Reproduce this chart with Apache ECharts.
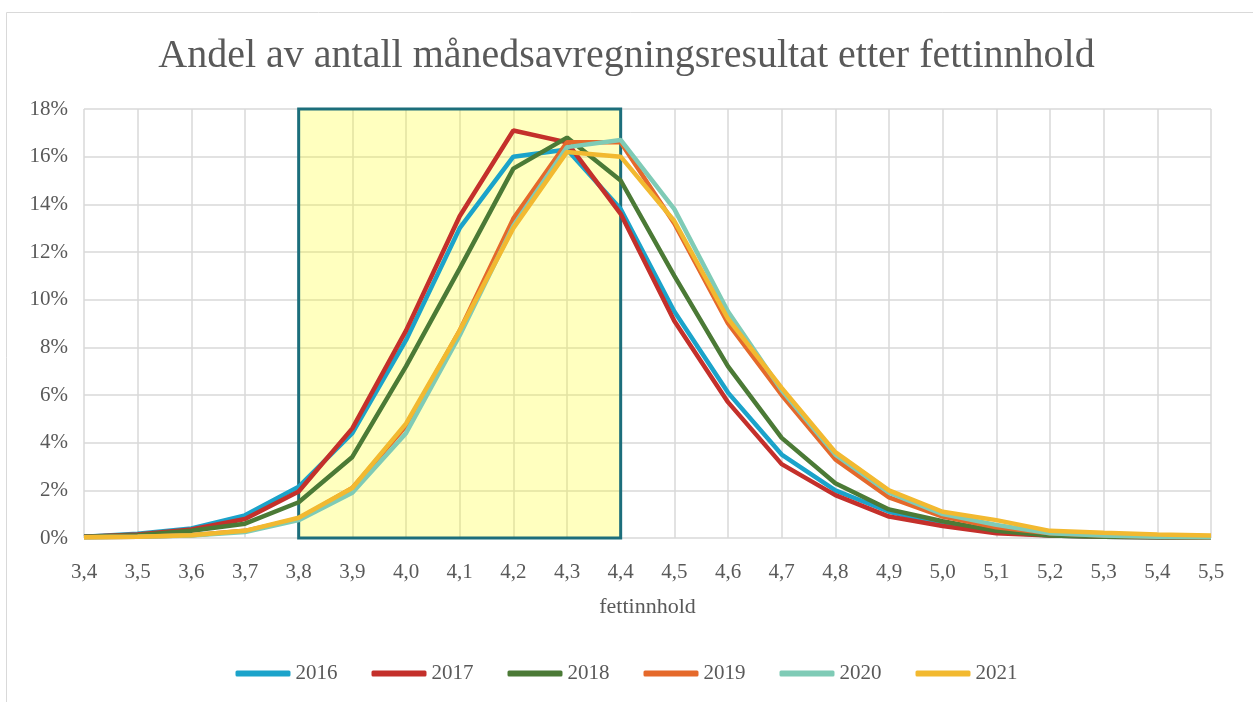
<!DOCTYPE html>
<html><head><meta charset="utf-8">
<script src="https://cdn.jsdelivr.net/npm/echarts@6/dist/echarts.min.js"></script>
<style>html,body{margin:0;padding:0;background:#fff}#c{width:1253px;height:702px}</style>
</head><body><div id="c"></div>
<script>
const categories = ['3,4','3,5','3,6','3,7','3,8','3,9','4,0','4,1','4,2','4,3','4,4','4,5','4,6','4,7','4,8','4,9','5,0','5,1','5,2','5,3','5,4','5,5'];
const s2016 = [0.05,0.18,0.4,0.95,2.15,4.4,8.3,13.0,16.0,16.3,13.8,9.5,6.1,3.5,2.0,1.1,0.6,0.25,0.1,0.05,0.03,0.02];
const s2017 = [0.05,0.15,0.36,0.8,1.95,4.6,8.7,13.5,17.1,16.6,13.6,9.1,5.7,3.1,1.8,0.9,0.5,0.2,0.1,0.05,0.03,0.02];
const s2018 = [0.05,0.12,0.3,0.6,1.5,3.4,7.2,11.3,15.5,16.8,15.0,11.0,7.2,4.2,2.3,1.2,0.7,0.3,0.1,0.05,0.03,0.02];
const s2019 = [0.03,0.05,0.12,0.3,0.8,2.1,4.7,8.7,13.4,16.6,16.6,13.2,9.0,6.0,3.3,1.7,0.9,0.45,0.2,0.1,0.05,0.03];
const s2020 = [0.03,0.05,0.1,0.25,0.75,1.9,4.4,8.5,13.1,16.4,16.7,13.8,9.5,6.2,3.5,1.9,1.0,0.55,0.2,0.1,0.05,0.03];
const s2021 = [0.03,0.05,0.12,0.3,0.85,2.1,4.8,8.7,13.0,16.2,16.0,13.3,9.2,6.3,3.6,2.0,1.1,0.75,0.3,0.22,0.15,0.1];
const yTicks = [0,2,4,6,8,10,12,14,16,18];
const seriesNames = ['2016','2017','2018','2019','2020','2021'];
const seriesData = [s2016,s2017,s2018,s2019,s2020,s2021];
const colors = ['#1BA3CA','#C4302B','#4B7A36','#E5692B','#7FCBB6','#F2B930'];
const serif = '"Liberation Serif", "DejaVu Serif", serif';

const chart = echarts.init(document.getElementById('c'));
const series = seriesNames.map((n,i)=>({
  name:n, type:'line', data:seriesData[i], symbol:'none', smooth:false,
  lineStyle:{width:4.5,color:colors[i]}, itemStyle:{color:colors[i]}, z:3+i
}));
series[0].markArea = {
  silent:true,
  itemStyle:{color:'rgba(255,255,0,0.25)', borderColor:'#1C6E7B', borderWidth:3},
  data:[[{xAxis:'3,8', yAxis:0},{xAxis:'4,4', yAxis:18}]]
};
chart.setOption({
  animation:false,
  color:colors,
  title:{text:'Andel av antall månedsavregningsresultat etter fettinnhold', left:'center', top:31,
    textStyle:{fontFamily:serif, fontSize:40, fontWeight:'normal', color:'#595959'}},
  graphic:[{type:'rect', shape:{x:6.5,y:12.5,width:1250,height:700}, style:{fill:'none', stroke:'#d9d9d9', lineWidth:1}, silent:true, z:-1}],
  legend:{bottom:13, left:'center', itemWidth:55, itemHeight:6, itemGap:34, icon:'roundRect',
    textStyle:{fontFamily:serif, fontSize:21, color:'#595959'}, data:seriesNames},
  grid:{left:84, right:42, top:109, bottom:164},
  xAxis:{type:'category', data:categories, boundaryGap:false, name:'fettinnhold', nameLocation:'middle', nameGap:58,
    nameTextStyle:{fontFamily:serif, fontSize:22, color:'#595959'},
    axisLine:{show:false}, axisTick:{show:false},
    axisLabel:{fontFamily:serif, fontSize:21, color:'#595959', margin:24, interval:0},
    splitLine:{show:true, lineStyle:{color:'#d9d9d9', width:1.5}}},
  yAxis:{type:'value', min:yTicks[0], max:yTicks[yTicks.length-1], interval:2,
    axisLine:{show:false}, axisTick:{show:false},
    axisLabel:{fontFamily:serif, fontSize:21, color:'#595959', margin:16, formatter:'{value}%'},
    splitLine:{lineStyle:{color:'#d9d9d9', width:1.5}}},
  series:series
});
</script></body></html>
